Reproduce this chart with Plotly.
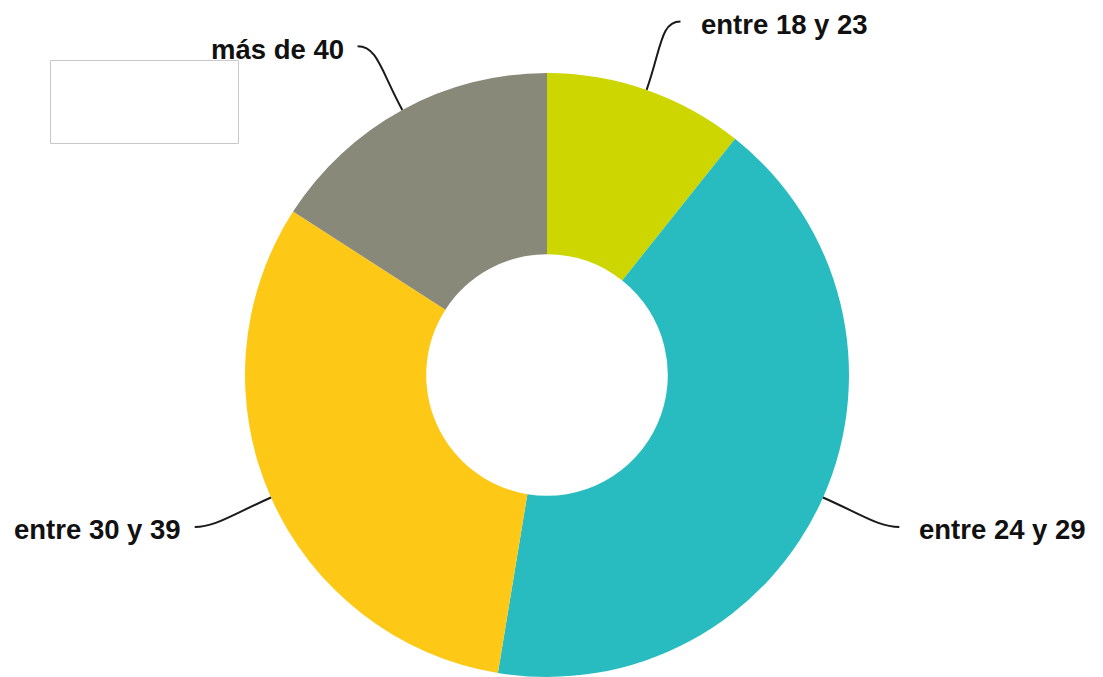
import math
import plotly.graph_objects as go

# Age groups and their share (%) of respondents
categories = ["entre 18 y 23", "entre 24 y 29", "entre 30 y 39", "más de 40"]
shares = [10.7, 41.9, 31.5, 15.9]

# Slice colours, in the same order as the categories
colors = ["#CDD600", "#28BCC0", "#FDC816", "#89897A"]

# Canvas and donut geometry (pixels)
W, H = 1103, 677
CX, CY = 547, 375          # donut centre
R = 302                    # outer radius
HOLE = 0.40                # inner / outer radius
LABEL_R = 1.24 * R         # radius at which the leader lines end
TAIL = 10                  # horizontal push of the leader-line end
FONT = dict(family="Liberation Sans, Arial, sans-serif", size=27.5, color="#111111")

fig = go.Figure()

fig.add_trace(go.Pie(
    labels=categories,
    values=shares,
    sort=False,
    direction="clockwise",
    rotation=0,
    hole=HOLE,
    marker=dict(colors=colors, line=dict(width=0)),
    textinfo="none",
    hoverinfo="label+percent",
    showlegend=False,
    domain=dict(x=[(CX - R) / W, (CX + R) / W],
                y=[1 - (CY + R) / H, 1 - (CY - R) / H]),
))

# Leader lines and labels, placed from each slice's mid angle
total = sum(shares)
shapes = []
annotations = []
start = 0.0
for name, val in zip(categories, shares):
    span = 360.0 * val / total
    mid = math.radians(start + span / 2)
    start += span
    ux, uy = math.sin(mid), -math.cos(mid)      # clockwise from 12 o'clock, y down
    side = 1 if ux >= 0 else -1

    x0, y0 = CX + R * ux, CY + R * uy
    x1, y1 = CX + (R + 45) * ux, CY + (R + 45) * uy
    x3 = CX + LABEL_R * ux + side * TAIL
    y3 = CY + LABEL_R * uy
    x2, y2 = x3 - side * 20, y3

    shapes.append(dict(
        type="path", xref="x", yref="y",
        path=f"M {x0:.1f},{y0:.1f} C {x1:.1f},{y1:.1f} {x2:.1f},{y2:.1f} {x3:.1f},{y3:.1f}",
        line=dict(color="#1a1a1a", width=2),
    ))
    annotations.append(dict(
        xref="x", yref="y",
        x=x3 + side * (18 if side > 0 else 12), y=y3 + 3,
        text=f"<b>{name}</b>", showarrow=False,
        xanchor="left" if side > 0 else "right", yanchor="middle",
        font=FONT,
    ))

# Empty legend frame in the top-left corner
shapes.append(dict(
    type="rect", xref="x", yref="y",
    x0=50.5, y0=60.5, x1=238.5, y1=143.5,
    line=dict(color="#c8c8c8", width=1), fillcolor="white", layer="below",
))

fig.update_layout(
    width=W, height=H,
    margin=dict(l=0, r=0, t=0, b=0),
    paper_bgcolor="white", plot_bgcolor="white",
    xaxis=dict(range=[0, W], visible=False, fixedrange=True),
    yaxis=dict(range=[H, 0], visible=False, fixedrange=True),
    shapes=shapes,
    annotations=annotations,
)

fig.write_html("out.html", config={"displayModeBar": False})
